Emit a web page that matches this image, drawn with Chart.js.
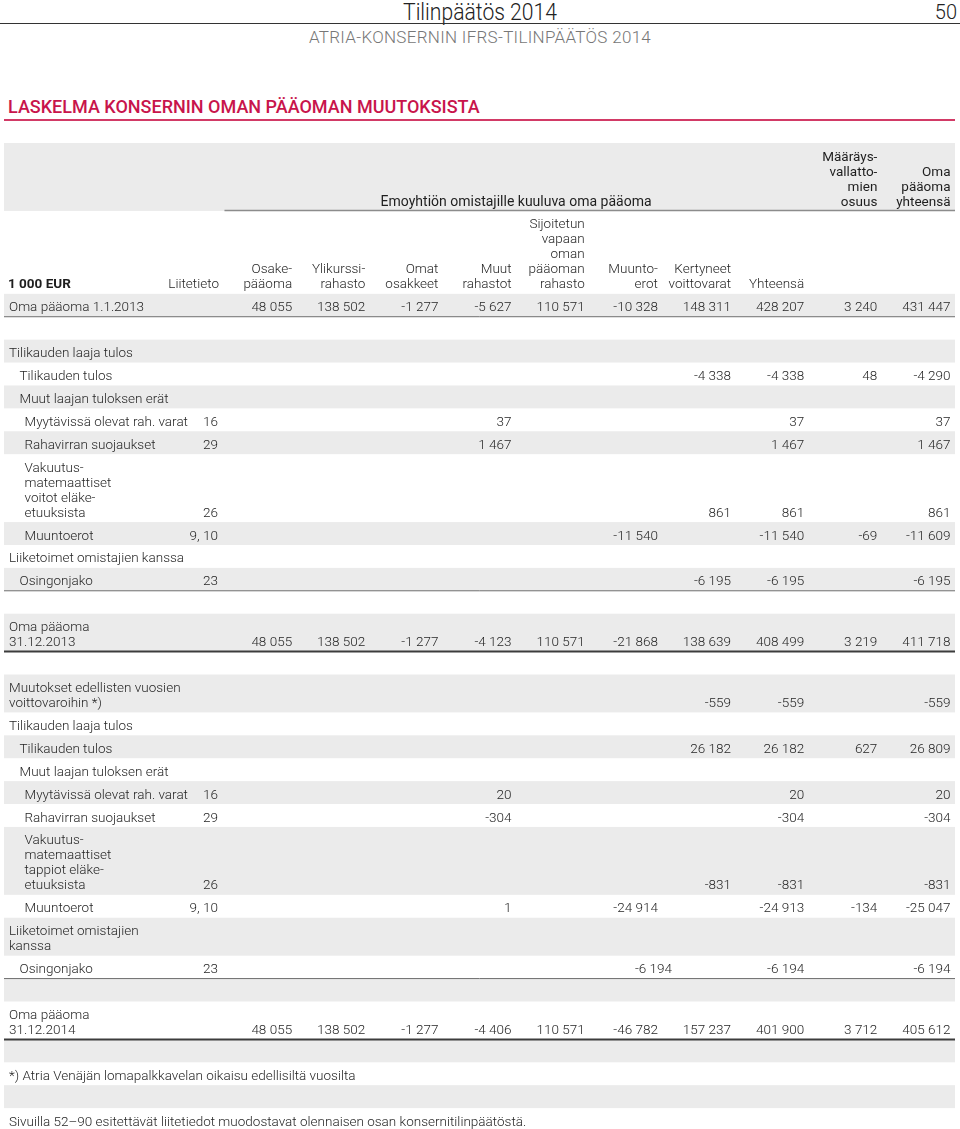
<!DOCTYPE html>
<html>
<head>
<meta charset="utf-8">
<title>Laskelma konsernin oman pääoman muutoksista</title>
<script src="https://cdn.jsdelivr.net/npm/chart.js@4.4.1/dist/chart.umd.min.js"></script>
<style>
    body { margin: 0; width: 960px; height: 1129px; overflow: hidden; background: #fff; font-family: Roboto, "Noto Sans", sans-serif; color: #333; }
    #pageTitle { position: absolute; left: 0; width: 960px; top: -2px; text-align: center; font-size: 24px; font-weight: 300; color: #222; transform: scaleX(0.88); }
    #pageNo { position: absolute; right: 3px; top: 0px; font-size: 20px; font-weight: 300; color: #222; }
    #topRule { position: absolute; left: 0; top: 23px; width: 960px; height: 1px; background: #333; }
    #subTitle { position: absolute; left: 0; width: 960px; top: 27px; text-align: center; font-size: 17px; font-weight: 300; letter-spacing: 0.3px; color: #777; }
    #heading { position: absolute; left: 8px; top: 96px; font-size: 18px; font-weight: 500; color: #c8144b; }
    #headingRule { position: absolute; left: 4px; top: 119px; width: 951px; height: 2px; background: #d23a66; }
    #tableWrap { position: absolute; left: 0; top: 140px; width: 960px; }
</style>
</head>
<body>
<div id="pageTitle">Tilinpäätös 2014</div>
<div id="pageNo">50</div>
<div id="topRule"></div>
<div id="subTitle">ATRIA-KONSERNIN IFRS-TILINPÄÄTÖS 2014</div>
<div id="heading">LASKELMA KONSERNIN OMAN PÄÄOMAN MUUTOKSISTA</div>
<div id="headingRule"></div>
<div id="tableWrap"><canvas id="equityTable"></canvas></div>

<script>
// Column headings (Liitetieto + equity components)
const unitLabel = '1 000 EUR';
const groupHeader = 'Emoyhtiön omistajille kuuluva oma pääoma';
const minorityHeader = ['Määräys-', 'vallatto-', 'mien', 'osuus'];
const totalHeader = ['Oma', 'pääoma', 'yhteensä'];
const columnHeaders = [
    ['Liitetieto'],
    ['Osake-', 'pääoma'],
    ['Ylikurssi-', 'rahasto'],
    ['Omat', 'osakkeet'],
    ['Muut', 'rahastot'],
    ['Sijoitetun', 'vapaan', 'oman', 'pääoman', 'rahasto'],
    ['Muunto-', 'erot'],
    ['Kertyneet', 'voittovarat'],
    ['Yhteensä']
];

// Row labels, indent level and note reference
const rowLabels = [
    ['Oma pääoma 1.1.2013'],
    [],
    ['Tilikauden laaja tulos'],
    ['Tilikauden tulos'],
    ['Muut laajan tuloksen erät'],
    ['Myytävissä olevat rah. varat'],
    ['Rahavirran suojaukset'],
    ['Vakuutus-', 'matemaattiset', 'voitot eläke-', 'etuuksista'],
    ['Muuntoerot'],
    ['Liiketoimet omistajien kanssa'],
    ['Osingonjako'],
    [],
    ['Oma pääoma', '31.12.2013'],
    [],
    ['Muutokset edellisten vuosien', 'voittovaroihin *)'],
    ['Tilikauden laaja tulos'],
    ['Tilikauden tulos'],
    ['Muut laajan tuloksen erät'],
    ['Myytävissä olevat rah. varat'],
    ['Rahavirran suojaukset'],
    ['Vakuutus-', 'matemaattiset', 'tappiot eläke-', 'etuuksista'],
    ['Muuntoerot'],
    ['Liiketoimet omistajien', 'kanssa'],
    ['Osingonjako'],
    [],
    ['Oma pääoma', '31.12.2014'],
    [],
    ['*) Atria Venäjän lomapalkkavelan oikaisu edellisiltä vuosilta'],
    [],
    ['Sivuilla 52–90 esitettävät liitetiedot muodostavat olennaisen osan konsernitilinpäätöstä.']
];
const rowLevels = [0, 0, 0, 1, 1, 2, 2, 2, 2, 0, 1, 0, 0, 0, 0, 0, 1, 1, 2, 2, 2, 2, 0, 1, 0, 0, 0, 0, 0, 0];
const rowNotes = ['', '', '', '', '', '16', '29', '26', '9, 10', '', '23', '', '', '', '', '', '', '', '16', '29', '26', '9, 10', '', '23', '', '', '', '', '', ''];

// Values, one array per row: Osake, Ylikurssi, Omat, Muut, Sijoitetun, Muunto, Kertyneet, Yhteensä, Määräysv., Oma yht.
const _ = null;
const rowValues = [
    [48055, 138502, -1277, -5627, 110571, -10328, 148311, 428207, 3240, 431447],
    null,
    null,
    [_, _, _, _, _, _, -4338, -4338, 48, -4290],
    null,
    [_, _, _, 37, _, _, _, 37, _, 37],
    [_, _, _, 1467, _, _, _, 1467, _, 1467],
    [_, _, _, _, _, _, 861, 861, _, 861],
    [_, _, _, _, _, -11540, _, -11540, -69, -11609],
    null,
    [_, _, _, _, _, _, -6195, -6195, _, -6195],
    null,
    [48055, 138502, -1277, -4123, 110571, -21868, 138639, 408499, 3219, 411718],
    null,
    [_, _, _, _, _, _, -559, -559, _, -559],
    null,
    [_, _, _, _, _, _, 26182, 26182, 627, 26809],
    null,
    [_, _, _, 20, _, _, _, 20, _, 20],
    [_, _, _, -304, _, _, _, -304, _, -304],
    [_, _, _, _, _, _, -831, -831, _, -831],
    [_, _, _, 1, _, -24914, _, -24913, -134, -25047],
    null,
    [_, _, _, _, _, _, -6194, -6194, _, -6194],
    null,
    [48055, 138502, -1277, -4406, 110571, -46782, 157237, 401900, 3712, 405612],
    null, null, null, null
];

// layout / style
const FONT = 'Roboto, "Noto Sans", sans-serif';
const LINE_H = 15;
const ROW_PAD = 7.9;
const CELL_PAD = 4.5;
const INDENTS = [5, 15.5, 20.5];
const STRIPE = '#ebebeb';
const TEXT = '#262626';
// rules drawn under some rows (body row index -> line width)
const rulesAfter = { 0: 1, 10: 1, 12: 2, 23: 1, 25: 2 };
// the printed page sets this one figure a column-width to the left
const shifted = { '23,6': -59 };

function rowHeight(lines) {
    return ROW_PAD + LINE_H * Math.max(lines, 1);
}

function fmt(v) {
    const s = String(Math.abs(v)).replace(/\B(?=(\d{3})+(?!\d))/g, ' ');
    return (v < 0 ? '-' : '') + s;
}

// two header rows + body rows
const lineCounts = [4, 5].concat(rowLabels.map(l => l.length));
const tops = [];
let acc = 0;
lineCounts.forEach(n => { tops.push(acc); acc += rowHeight(n); });
const totalHeight = acc;

const wrap = document.getElementById('tableWrap');
wrap.style.height = Math.ceil(totalHeight + 3) + 'px';

const tablePlugin = {
    id: 'equityTable',
    afterDraw(chart) {
        const ctx = chart.ctx;
        const x = chart.scales.x;
        const y = chart.scales.y;
        const left = x.getPixelForValue(-3);
        const right = x.getPixelForValue(10);
        const baseline = (i, k) => y.getPixelForValue(tops[i]) + 17.5 + LINE_H * k;
        const colRight = c => x.getPixelForValue(c) - CELL_PAD;

        ctx.save();

        // alternating stripes
        lineCounts.forEach((n, i) => {
            if (i % 2 !== 0) return;
            const t = y.getPixelForValue(tops[i]);
            const b = y.getPixelForValue(tops[i] + rowHeight(n));
            ctx.fillStyle = STRIPE;
            ctx.fillRect(left, t, right - left, b - t);
        });

        ctx.textBaseline = 'alphabetic';

        // header row 0
        ctx.fillStyle = '#1e1e1e';
        ctx.font = '400 14px ' + FONT;
        ctx.textAlign = 'center';
        ctx.fillText(groupHeader, (x.getPixelForValue(0) + x.getPixelForValue(8)) / 2, baseline(0, 3));
        ctx.font = '400 13.5px ' + FONT;
        ctx.textAlign = 'right';
        minorityHeader.forEach((t, k) => ctx.fillText(t, colRight(9), baseline(0, 4 - minorityHeader.length + k)));
        totalHeader.forEach((t, k) => ctx.fillText(t, colRight(10), baseline(0, 4 - totalHeader.length + k)));

        const hb = Math.round(y.getPixelForValue(tops[1])) - 0.5;
        ctx.strokeStyle = '#8c8c8c';
        ctx.lineWidth = 1.5;
        ctx.beginPath();
        ctx.moveTo(x.getPixelForValue(0) + 1, hb);
        ctx.lineTo(right, hb);
        ctx.stroke();

        // header row 1
        ctx.fillStyle = TEXT;
        ctx.font = '300 13.5px ' + FONT;
        ctx.textAlign = 'right';
        columnHeaders.forEach((lines, c) => {
            lines.forEach((t, k) => ctx.fillText(t, colRight(c), baseline(1, 5 - lines.length + k)));
        });
        ctx.fillStyle = '#1e1e1e';
        ctx.font = '700 13.5px ' + FONT;
        ctx.textAlign = 'left';
        ctx.fillText(unitLabel, left + 4, baseline(1, 4));

        // body
        ctx.fillStyle = TEXT;
        ctx.font = '300 13.5px ' + FONT;
        rowLabels.forEach((lines, r) => {
            const i = r + 2;
            const last = Math.max(lines.length, 1) - 1;
            ctx.textAlign = 'left';
            lines.forEach((t, k) => ctx.fillText(t, left + INDENTS[rowLevels[r]], baseline(i, k)));
            ctx.textAlign = 'right';
            if (rowNotes[r]) ctx.fillText(rowNotes[r], colRight(0) - 1, baseline(i, last));
            const vals = rowValues[r];
            if (vals) {
                vals.forEach((v, c) => {
                    if (v === null || v === undefined) return;
                    const dx = shifted[r + ',' + c] || 0;
                    ctx.fillText(fmt(v), colRight(c + 1) + dx, baseline(i, last));
                });
            }
            if (rulesAfter[r]) {
                const w = rulesAfter[r];
                const yb = y.getPixelForValue(tops[i] + rowHeight(lines.length));
                ctx.strokeStyle = w > 1 ? '#3c3c3c' : '#6e6e6e';
                ctx.lineWidth = w;
                ctx.beginPath();
                ctx.moveTo(left, yb);
                ctx.lineTo(right, yb);
                ctx.stroke();
            }
        });

        ctx.restore();
    }
};

document.addEventListener('DOMContentLoaded', function() {
    const tableCtx = document.getElementById('equityTable').getContext('2d');

    new Chart(tableCtx, {
        type: 'scatter',
        data: { datasets: [] },
        options: {
            responsive: true,
            maintainAspectRatio: false,
            animation: false,
            events: [],
            layout: { padding: { left: 4, right: 5, top: 3, bottom: 0 } },
            plugins: {
                legend: { display: false },
                tooltip: { enabled: false }
            },
            scales: {
                x: { type: 'linear', min: -3, max: 10, display: false },
                y: { type: 'linear', min: 0, max: totalHeight, reverse: true, display: false }
            }
        },
        plugins: [tablePlugin]
    });
});
</script>
</body>
</html>
